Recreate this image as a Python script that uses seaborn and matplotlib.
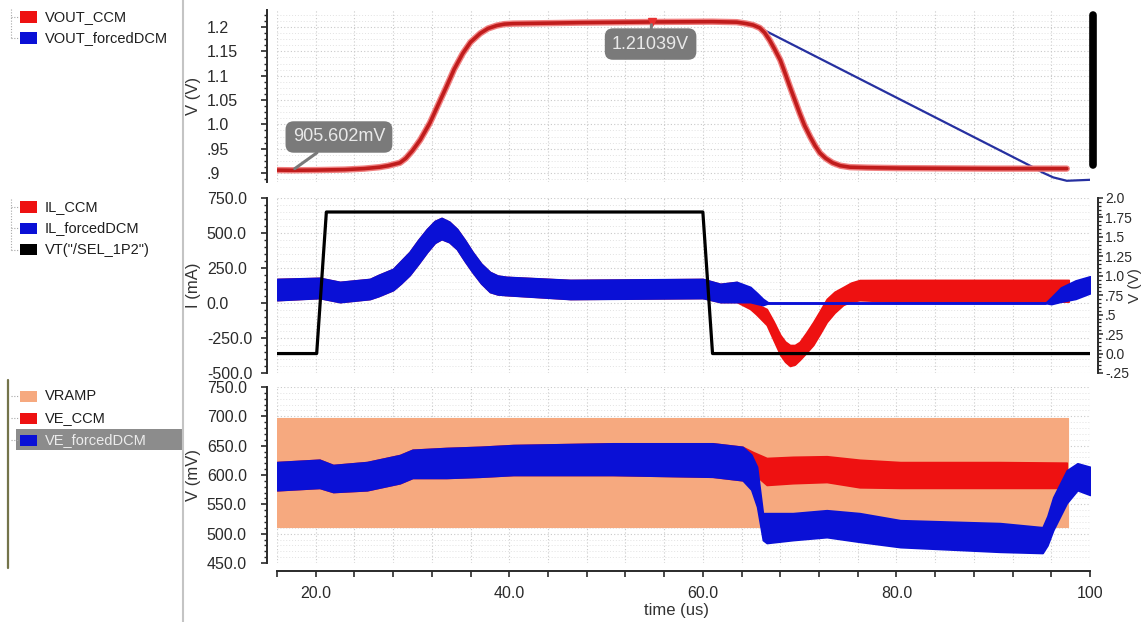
import matplotlib
matplotlib.use("Agg")
import matplotlib.pyplot as plt
import matplotlib.patheffects as pe
from matplotlib.ticker import MultipleLocator, FixedLocator, FixedFormatter
from matplotlib.patches import Rectangle
from matplotlib.lines import Line2D
import seaborn as sns

# ---------------- time axis (us) ----------------
time_ticks = [20, 40, 60, 80, 100]
time_tick_labels = ["20.0", "40.0", "60.0", "80.0", "100"]

# ---------------- VOUT (V) ----------------
vout_ccm_t = [16, 17.6, 20, 23, 25, 26.6, 27.5, 28.7, 29.3, 30.0, 30.8, 31.8, 32.6, 33.5,
              34.3, 35.2, 36.0, 37.0, 37.8, 38.7, 39.5, 40.4, 44.0, 47.3, 54.7, 61.0, 63.5,
              64.5, 65.2, 65.9, 66.4, 66.9, 67.4, 68.0, 68.5, 69.0, 69.5, 70.0, 70.5, 71.1,
              71.6, 72.1, 72.7, 73.4, 74.2, 75.2, 77.0, 80.4, 90.0, 97.6]
vout_ccm_v = [0.906, 0.905602, 0.906, 0.907, 0.909, 0.912, 0.915, 0.921, 0.930, 0.946,
              0.968, 1.003, 1.038, 1.077, 1.113, 1.146, 1.169, 1.187, 1.197, 1.203, 1.206,
              1.207, 1.208, 1.209, 1.21039, 1.211, 1.210, 1.207, 1.204, 1.198, 1.188, 1.173,
              1.155, 1.132, 1.105, 1.077, 1.050, 1.023, 0.998, 0.974, 0.956, 0.941, 0.930,
              0.921, 0.915, 0.912, 0.911, 0.910, 0.909, 0.909]
vout_dcm_t = [16, 20, 25, 26.6, 27.5, 28.7, 29.3, 30.0, 30.8, 31.8, 32.6, 33.5, 34.3, 35.2,
              36.0, 37.0, 37.8, 38.7, 39.5, 40.4, 47.3, 61.0, 63.5, 64.5, 65.2, 65.9, 80.0,
              94.1, 95.2, 96.2, 97.6, 100]
vout_dcm_v = [0.906, 0.906, 0.909, 0.912, 0.915, 0.921, 0.930, 0.946, 0.968, 1.003, 1.038,
              1.077, 1.113, 1.146, 1.169, 1.187, 1.197, 1.203, 1.206, 1.207, 1.209, 1.211,
              1.210, 1.207, 1.204, 1.198, 1.055, 0.912, 0.900, 0.891, 0.884, 0.886]
vout_cursor_t = [17.6, 54.7]
vout_cursor_v = [0.905602, 1.21039]
vout_cursor_text_t = [22.4, 54.6]
vout_cursor_text_v = [0.974, 1.165]
vout_bar_t = [100.35, 100.35]
vout_bar_v = [0.916, 1.224]

# ---------------- inductor current (mA) ----------------
il_dcm_t = [16, 20.4, 22.5, 25.6, 26.5, 27.2, 28.0, 28.8, 29.7, 30.6, 31.5, 32.3, 33.0, 33.8,
            34.6, 35.4, 36.2, 37.1, 38.0, 38.8, 39.7, 46.3, 60.0, 61.8, 63.5, 64.9, 65.6,
            66.2, 66.8, 95.4, 96.0, 97.0, 98.5, 100]
il_dcm_lo = [21, 36, 7, 29, 50, 70, 93, 140, 200, 280, 364, 430, 457, 435,
             385, 300, 221, 140, 79, 62, 57, 29, 36, 7, 7, 7, -5, -14, 0, 0, -7, 10, 30, 70]
il_dcm_hi = [171, 179, 150, 171, 200, 220, 243, 300, 364, 450, 528, 585, 607, 580,
             528, 450, 364, 280, 221, 195, 186, 164, 171, 136, 150, 114, 70, 29, 0, 0, 40,
             110, 160, 190]

il_ccm_t = [16, 20.4, 22.5, 25.6, 26.5, 27.2, 28.0, 28.8, 29.7, 30.6, 31.5, 32.3, 33.0, 33.8,
            34.6, 35.4, 36.2, 37.1, 38.0, 38.8, 39.7, 46.3, 60.0, 61.8, 63.5, 64.9, 65.5,
            66.6, 67.3, 68.0, 68.5, 69.0, 69.5, 70.0, 70.7, 71.4, 72.1, 72.8, 73.6, 74.5,
            75.3, 76.2, 80.0, 90.0, 97.8]
il_ccm_lo = [21, 36, 7, 29, 50, 70, 93, 140, 200, 280, 364, 430, 457, 435,
             385, 300, 221, 140, 79, 62, 57, 29, 36, 7, 7, -43, -80, -157, -265, -371, -420,
             -450, -440, -407, -355, -300, -220, -136, -70, -14, 10, 20, 10, 10, 10]
il_ccm_hi = [171, 179, 150, 171, 200, 220, 243, 300, 364, 450, 528, 585, 607, 580,
             528, 450, 364, 280, 221, 195, 186, 164, 171, 136, 150, 7, -5, -43, -130, -228,
             -275, -300, -300, -278, -210, -136, -55, 29, 80, 114, 145, 164, 165, 165, 165]

# select signal VT("/SEL_1P2") (V)
vt_t = [16, 20.1, 21.1, 60.0, 61.0, 100]
vt_v = [0.0, 0.0, 1.82, 1.82, 0.0, 0.0]

# ---------------- error amplifier / ramp (mV) ----------------
vramp_t = [16, 97.7]
vramp_lo = [511, 511]
vramp_hi = [697, 697]

ve_dcm_t = [16, 20.4, 21.8, 25.3, 28.7, 30.0, 33.5, 37.0, 40.4, 50.7, 61.0, 64.1, 65.0, 65.6,
            66.2, 66.6, 69.3, 72.8, 76.2, 80.4, 90.7, 95.1, 95.6, 96.2, 97.6, 98.7, 100]
ve_dcm_lo = [574, 578, 571, 574, 586, 595, 595, 597, 600, 600, 597, 591, 575, 546,
             489, 484, 489, 494, 486, 477, 469, 467, 480, 506, 552, 574, 566]
ve_dcm_hi = [622, 626, 617, 622, 634, 643, 646, 648, 651, 654, 654, 648, 635, 614,
             535, 535, 535, 540, 535, 523, 518, 511, 530, 562, 608, 620, 614]

ve_ccm_t = [16, 20.4, 21.8, 25.3, 28.7, 30.0, 33.5, 37.0, 40.4, 50.7, 61.0, 64.1, 65.2, 66.6,
            69.3, 72.8, 76.2, 80.4, 90.7, 97.6]
ve_ccm_lo = [574, 578, 571, 574, 586, 595, 595, 597, 600, 600, 597, 591, 603, 583,
             586, 588, 579, 578, 578, 578]
ve_ccm_hi = [622, 626, 617, 622, 634, 643, 646, 648, 651, 654, 654, 648, 639, 629,
             631, 632, 626, 622, 622, 621]

# ---------------- axis ticks ----------------
v_ticks = [0.9, 0.95, 1.0, 1.05, 1.1, 1.15, 1.2]
v_tick_labels = [".9", ".95", "1.0", "1.05", "1.1", "1.15", "1.2"]
i_ticks = [-500, -250, 0, 250, 500, 750]
i_tick_labels = ["-500.0", "-250.0", "0.0", "250.0", "500.0", "750.0"]
vt_ticks = [-0.25, 0.0, 0.25, 0.5, 0.75, 1.0, 1.25, 1.5, 1.75, 2.0]
vt_tick_labels = ["-.25", "0.0", ".25", ".5", ".75", "1.0", "1.25", "1.5", "1.75", "2.0"]
mv_ticks = [450, 500, 550, 600, 650, 700, 750]
mv_tick_labels = ["450.0", "500.0", "550.0", "600.0", "650.0", "700.0", "750.0"]

# ---------------- legend names ----------------
legend_groups = [
    ["VOUT_CCM", "VOUT_forcedDCM"],
    ["IL_CCM", "IL_forcedDCM", 'VT("/SEL_1P2")'],
    ["VRAMP", "VE_CCM", "VE_forcedDCM"],
]

RED = "#ee1111"
BLUE = "#0a10d6"
BLACK = "#000000"
ORANGE = "#f6a97f"
VOUT_RED = "#c01c1c"
VOUT_BLUE = "#2630a0"
series_colors = {
    "VOUT_CCM": RED, "VOUT_forcedDCM": BLUE,
    "IL_CCM": RED, "IL_forcedDCM": BLUE, 'VT("/SEL_1P2")': BLACK,
    "VRAMP": ORANGE, "VE_CCM": RED, "VE_forcedDCM": BLUE,
}

sns.set_theme(style="white")
plt.rcParams["font.family"] = ["Liberation Sans", "DejaVu Sans"]

W, H = 1146, 622
fig = plt.figure(figsize=(W / 100, H / 100), dpi=100)
fig.patch.set_facecolor("white")


def fx(x):
    return x / W


def fy(y):
    return 1 - y / H


left, right = 277, 1090
ax1 = fig.add_axes([fx(left), fy(182), (right - left) / W, 172 / H])
ax2 = fig.add_axes([fx(left), fy(373), (right - left) / W, 175 / H])
ax3 = fig.add_axes([fx(left), fy(563), (right - left) / W, 176 / H])
ax2r = ax2.twinx()

GRID = dict(linestyle=(0, (1, 2)), color="#c9c9c9", linewidth=0.8)
GRID_MINOR = dict(linestyle=(0, (1, 2)), color="#e2e2e2", linewidth=0.7)


def style_panel(ax, ylim, ticks, labels, minor):
    ax.set_xlim(16, 100)
    ax.set_ylim(*ylim)
    ax.set_facecolor("white")
    ax.set_axisbelow(True)
    ax.yaxis.set_major_locator(FixedLocator(ticks))
    ax.yaxis.set_major_formatter(FixedFormatter(labels))
    ax.yaxis.set_minor_locator(MultipleLocator(minor))
    ax.xaxis.set_major_locator(FixedLocator(time_ticks))
    ax.xaxis.set_minor_locator(MultipleLocator(4))
    for s in ["top", "right", "bottom"]:
        ax.spines[s].set_visible(False)
    ax.spines["left"].set_position(("outward", 7.5))
    ax.spines["left"].set_color("#2a2a2a")
    ax.spines["left"].set_linewidth(1.4)
    ax.tick_params(axis="y", which="major", direction="out", length=4.5, width=1.2,
                   pad=38.5, labelsize=11.5, colors="#2a2a2a", left=True)
    ax.tick_params(axis="y", which="minor", direction="out", length=2.5, width=1.0,
                   colors="#2a2a2a", left=True)
    ax.tick_params(axis="x", which="both", bottom=False, labelbottom=False)
    for lab in ax.get_yticklabels():
        lab.set_ha("left")
    ax.grid(True, which="major", **GRID)
    ax.xaxis.grid(True, which="minor", **GRID)
    ax.yaxis.grid(True, which="minor", **GRID_MINOR)


style_panel(ax1, (0.8815, 1.235), v_ticks, v_tick_labels, 0.0125)
style_panel(ax2, (-500, 750), i_ticks, i_tick_labels, 50)
style_panel(ax3, (450, 750), mv_ticks, mv_tick_labels, 10)

# ---- panel 1: output voltage ----
sns.lineplot(x=vout_dcm_t, y=vout_dcm_v, ax=ax1, color=VOUT_BLUE, linewidth=1.6,
             estimator=None, sort=False)
sns.lineplot(x=vout_ccm_t, y=vout_ccm_v, ax=ax1, color=VOUT_RED, linewidth=2.6,
             estimator=None, sort=False)
ax1.lines[-1].set_path_effects([pe.Stroke(linewidth=4.6, foreground="#f08080"), pe.Normal()])
ax1.lines[-1].set_solid_joinstyle("round")
ax1.plot(vout_bar_t, vout_bar_v, color="black", linewidth=5.5, solid_capstyle="round",
         clip_on=False)
ax1.plot(vout_cursor_t[1], vout_cursor_v[1], marker="v", color="#e83030", markersize=6,
         zorder=5)

cursor_labels = [f"{vout_cursor_v[0] * 1000:.3f}mV", f"{vout_cursor_v[1]:.5f}V"]
for k in range(2):
    ax1.annotate(cursor_labels[k], xy=(vout_cursor_t[k], vout_cursor_v[k]),
                 xytext=(vout_cursor_text_t[k], vout_cursor_text_v[k]), textcoords="data",
                 ha="center", va="center", fontsize=13, color="#e9e9e9", zorder=6,
                 bbox=dict(boxstyle="round,pad=0.4,rounding_size=0.45", fc="#7a7a7a",
                           ec="none"),
                 arrowprops=dict(arrowstyle="-", color="#7a7a7a", lw=2.2,
                                 shrinkA=0, shrinkB=2))

ax1.set_ylabel("V (V)", fontsize=12, color="#333333")
ax1.yaxis.set_label_coords((201 - left) / (right - left), 0.5)

# ---- panel 2: inductor current + select signal ----
ax2.fill_between(il_ccm_t, il_ccm_lo, il_ccm_hi, color=RED, linewidth=1.2, edgecolor=RED)
ax2.fill_between(il_dcm_t, il_dcm_lo, il_dcm_hi, color=BLUE, linewidth=1.4, edgecolor=BLUE)
ax2.set_ylabel("I (mA)", fontsize=12, color="#333333")
ax2.yaxis.set_label_coords((201 - left) / (right - left), 0.5)

ax2r.set_xlim(16, 100)
ax2r.set_ylim(-0.25, 2.0)
sns.lineplot(x=vt_t, y=vt_v, ax=ax2r, color=BLACK, linewidth=2.3, estimator=None, sort=False)
ax2r.yaxis.set_major_locator(FixedLocator(vt_ticks))
ax2r.yaxis.set_major_formatter(FixedFormatter(vt_tick_labels))
ax2r.yaxis.set_minor_locator(MultipleLocator(0.05))
for s in ["top", "left", "bottom"]:
    ax2r.spines[s].set_visible(False)
ax2r.spines["right"].set_position(("outward", 5.8))
ax2r.spines["right"].set_color("#2a2a2a")
ax2r.spines["right"].set_linewidth(1.4)
ax2r.tick_params(axis="y", which="major", direction="out", length=3.5, width=1.1, pad=1.5,
                 labelsize=10, colors="#2a2a2a", right=True)
ax2r.tick_params(axis="y", which="minor", direction="out", length=2.0, width=0.9,
                 colors="#2a2a2a", right=True)
ax2r.grid(False)
ax2r.set_ylabel("V (V)", fontsize=11, color="#333333", rotation=90)
ax2r.yaxis.set_label_coords((1128 - left) / (right - left), 0.5)
ax2r.yaxis.label.set_va("top")

# ---- panel 3: error amplifier output vs. ramp ----
ax3.fill_between(vramp_t, vramp_lo, vramp_hi, color=ORANGE, linewidth=0.8, edgecolor=ORANGE)
ax3.fill_between(ve_ccm_t, ve_ccm_lo, ve_ccm_hi, color=RED, linewidth=1.2, edgecolor=RED)
ax3.fill_between(ve_dcm_t, ve_dcm_lo, ve_dcm_hi, color=BLUE, linewidth=1.2, edgecolor=BLUE)
ax3.set_ylabel("V (mV)", fontsize=12, color="#333333")
ax3.yaxis.set_label_coords((201 - left) / (right - left), 0.5)

ax3.spines["bottom"].set_visible(True)
ax3.spines["bottom"].set_position(("outward", 5.8))
ax3.spines["bottom"].set_color("#2a2a2a")
ax3.spines["bottom"].set_linewidth(1.4)
ax3.xaxis.set_major_formatter(FixedFormatter(time_tick_labels))
ax3.tick_params(axis="x", which="both", bottom=True, labelbottom=True, direction="out",
                length=4.5, width=1.2, colors="#2a2a2a", labelsize=11.5, pad=6.5)
ax3.set_xlabel("time (us)", fontsize=12, color="#333333")
ax3.xaxis.set_label_coords((677 - left) / (right - left), (563 - 610) / 176)
ax3.xaxis.label.set_va("center")

# ---------------- legend column ----------------
fig.add_artist(Line2D([fx(183), fx(183)], [0, 1], color="#c4c4c4", linewidth=1.5))

group_rows = [[17, 38], [207, 228, 250], [396, 418, 440]]
highlight = "VE_forcedDCM"
for g, (names, rows) in enumerate(zip(legend_groups, group_rows)):
    if g == 2:
        fig.add_artist(Line2D([fx(8), fx(8)], [fy(380), fy(568)], color="#74744a",
                              linewidth=1.6))
    else:
        fig.add_artist(Line2D([fx(11), fx(11)], [fy(rows[0] - 8), fy(rows[-1])],
                              color="#a8a8a8", linewidth=0.8, linestyle=(0, (1, 1.5))))
    for name, yy in zip(names, rows):
        fig.add_artist(Line2D([fx(11), fx(18)], [fy(yy), fy(yy)], color="#a8a8a8",
                              linewidth=0.8, linestyle=(0, (1, 1.5))))
        txt_color = "#1e1e1e"
        if name == highlight:
            fig.add_artist(Rectangle((fx(16), fy(450)), (182 - 16) / W, 21 / H,
                                     transform=fig.transFigure, facecolor="#8c8c8c",
                                     edgecolor="none"))
            txt_color = "#ececec"
        fig.add_artist(Rectangle((fx(20), fy(yy + 5.5)), 17 / W, 11 / H,
                                 transform=fig.transFigure,
                                 facecolor=series_colors[name], edgecolor="none"))
        fig.text(fx(45), fy(yy), name, fontsize=10.5, color=txt_color, ha="left",
                 va="center")

fig.savefig("out.png", dpi=100, facecolor="white")
